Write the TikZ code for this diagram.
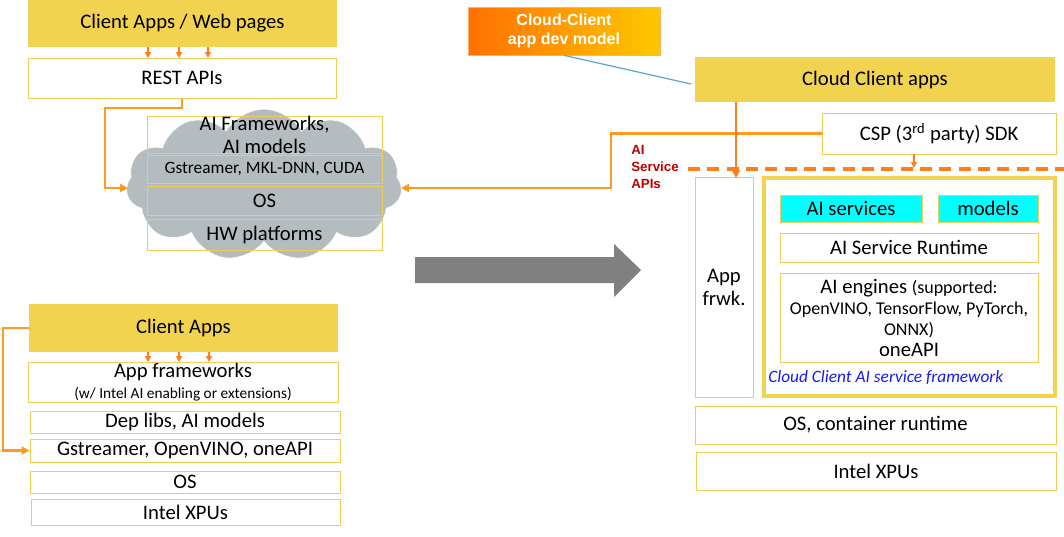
\documentclass[tikz,border=0pt]{standalone}
\usepackage{fontspec}
\setmainfont{Carlito}
\newfontfamily\arialf{Liberation Sans}
\usetikzlibrary{arrows.meta,shapes.symbols}
\definecolor{ylw}{HTML}{F2D34F}
\definecolor{ybord}{HTML}{F0CD55}
\definecolor{org}{HTML}{FF9A1E}
\definecolor{orgd}{HTML}{FF7F1F}
\definecolor{cgrey}{HTML}{B5BCC0}
\definecolor{aired}{HTML}{C00000}
\definecolor{lblue}{HTML}{55A5D6}
\definecolor{fwblue}{HTML}{1A1AF0}
\definecolor{cyanbox}{HTML}{00FFFF}
\definecolor{garrow}{HTML}{808080}
\begin{document}
\begin{tikzpicture}[x=0.75pt,y=-0.75pt,
  rect/.style args={#1/#2/#3/#4}{at={({(#1+#3)/2},{(#2+#4)/2})},
     minimum width={(#3-#1)*0.75pt}, minimum height={(#4-#2)*0.75pt}},
  big/.style={font=\fontsize{15.5}{17.25}\selectfont},
  ybox/.style={fill=ylw, draw=none, inner sep=0pt, big},
  wbox/.style={fill=white, draw=ybord, line width=0.75pt, inner sep=0pt, big, align=center},
  tbox/.style={fill=none, draw=ybord, line width=0.75pt, inner sep=0pt, big, align=center},
  cbox/.style={fill=cyanbox, draw=ybord, line width=0.75pt, inner sep=0pt, big},
  conn/.style={draw=org, line width=2.2pt, -{Triangle[length=6pt,width=6pt]}},
  sarr/.style={draw=orgd, line width=1.5pt, -{Triangle[length=4.5pt,width=4.5pt]}},
]
\useasboundingbox (0,0) rectangle (1064,536);

% ---------- top-left stack ----------
\node[ybox, rect=28/0/337/47] (cawp) {Client Apps / Web pages};
\node[wbox, rect=28/58/336/98] (rest) {REST APIs};
\foreach \x in {148,179,208} \draw[sarr] (\x,47) -- (\x,58);

\node[cloud, cloud puffs=11, cloud puff arc=120, cloud ignores aspect, fill=cgrey, draw=white, line width=0.5pt,
      minimum width=276*0.75pt, minimum height=152*0.75pt, inner sep=0pt] (cloud) at (264,185) {};
\node[tbox, rect=147/117/382/153] (aif) {AI Frameworks,\\AI models};
\node[tbox, rect=147/155/382/183, font=\fontsize{13}{15}\selectfont] (gst1) {Gstreamer, MKL-DNN, CUDA};
\node[tbox, rect=147/186/382/215] (os1) {OS};
\node[tbox, rect=147/219/382/250] (hw1) {HW platforms};
\coordinate (cloudL) at (128,188);
\coordinate (cloudR) at (401,188);
\draw[conn] (rest.south) -- (182,108) -- (105,108) -- (105,188) -- (cloudL);

% ---------- bottom-left stack ----------
\node[ybox, rect=29/304/338/352] (ca2) {Client Apps};
\node[wbox, rect=28/362/338/402] (appfw) {App frameworks\\[-2pt]{\fontsize{11.5}{12}\selectfont (w/ Intel AI enabling or extensions)}};
\foreach \x in {148,179,209} \draw[sarr] (\x,352) -- (\x,362);
\node[wbox, rect=30/411/340/433] (dep) {Dep libs, AI models};
\node[wbox, rect=30/439/340/462] (gst2) {Gstreamer, OpenVINO, oneAPI};
\node[wbox, rect=30/471/340/493] (os2) {OS};
\node[wbox, rect=31/499/340/525] (xpu2) {Intel XPUs};
\draw[conn] (ca2.west) -- (3,328) -- (3,450.5) -- (gst2.west);

% ---------- big grey arrow ----------
\fill[garrow] (415,257) -- (614,257) -- (614,244) -- (641,270) -- (614,297) -- (614,283) -- (415,283) -- cycle;

% ---------- right side ----------
\node[inner sep=0pt, draw=orange!60, line width=0.5pt, shading=axis, left color={rgb,255:red,255;green,112;blue,0}, right color={rgb,255:red,255;green,200;blue,0},
      rect=468/7/660/55, text=white, align=center, font=\arialf\bfseries\fontsize{12}{14.25}\selectfont] (ccm) {Cloud-Client\\app dev model};
\node[ybox, rect=695/57/1055/102] (cca) {Cloud Client apps};
\draw[lblue, line width=0.9pt] (ccm.south) -- (691,84);

\node[wbox, rect=822/113/1056/154] (csp) {CSP (3\textsuperscript{rd} party) SDK};
\draw[conn] (csp.west) -- (611,133.5) -- (611,188) -- (cloudR);

\draw[draw=orgd, line width=2.4pt, dash pattern=on 9pt off 5.5pt] (688,169) -- (1064,169);
\node[anchor=north west, inner sep=0pt, text=aired, align=left, font=\arialf\bfseries\fontsize{10}{12.75}\selectfont] (apis) at (631,145) {AI\\Service\\APIs};
\draw[sarr] (914,154) -- (914,168);

\node[wbox, rect=695/177/753/397] (appf) {App\\frwk.};
\coordinate (ccaB) at (736,102);
\coordinate (appfT) at (736,178);
\draw[draw=orgd, line width=2pt, -{Triangle[length=6pt,width=6pt]}] (ccaB) -- (appfT);

\node[draw=ylw, line width=3.2pt, inner sep=0pt, rect=764/178/1055/396] (fw) {};
\node[cbox, rect=780/195/922/222] (aisvc) {AI services};
\node[cbox, rect=938/195/1038/222] (models) {models};
\node[wbox, rect=780/233/1038/262] (rt) {AI Service Runtime};
\node[wbox, rect=780/273/1038/362, font=\fontsize{15.5}{15.75}\selectfont] (eng)
  {AI engines {\fontsize{13.5}{15.75}\selectfont(supported:}\\
   {\fontsize{13.5}{15.75}\selectfont OpenVINO, TensorFlow, PyTorch,}\\
   {\fontsize{13.5}{15.75}\selectfont ONNX)}\\
   oneAPI};
\node[anchor=west, inner sep=0pt, text=fwblue, font=\itshape\fontsize{13}{14}\selectfont] (fwlab) at (768,377) {Cloud Client AI service framework};

\node[wbox, rect=695/406/1056/444] (os3) {OS, container runtime};
\node[wbox, rect=696/452/1056/490] (xpu3) {Intel XPUs};
\end{tikzpicture}
\end{document}
